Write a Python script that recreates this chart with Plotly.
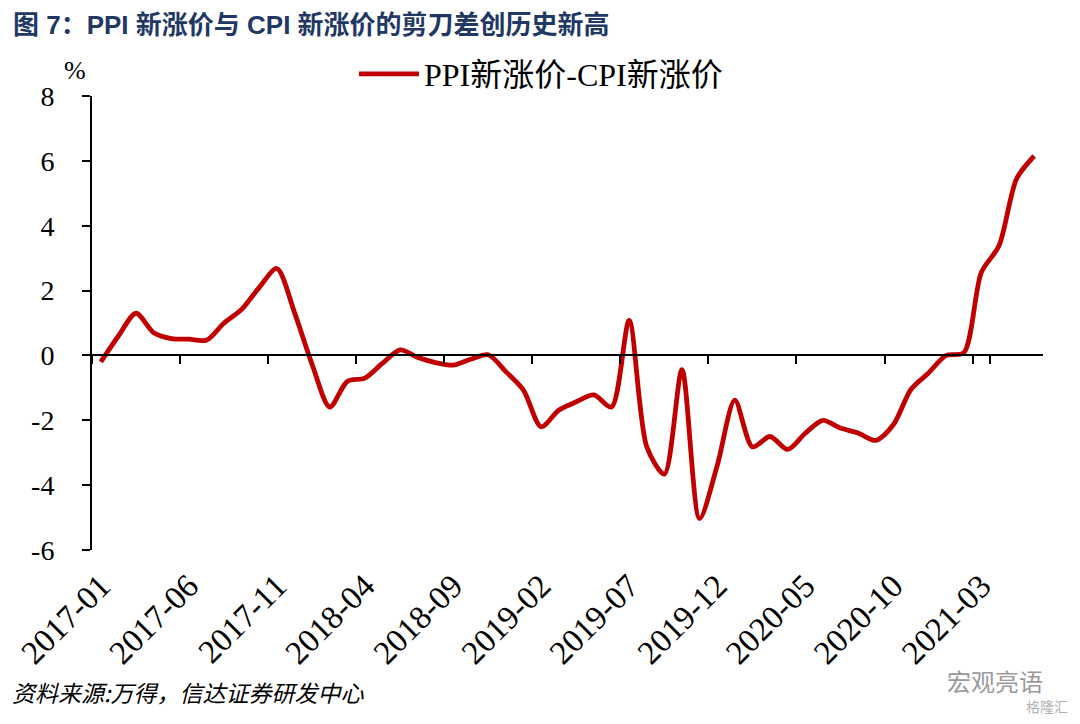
import pandas as pd
import plotly.graph_objects as go

# ---- data ----
months = [d.strftime("%Y-%m") for d in pd.date_range("2017-01-01", "2021-06-01", freq="MS")]
series_name = "PPI新涨价-CPI新涨价"
spread = [-0.2, 0.6, 1.3, 0.7, 0.52, 0.5, 0.47, 1.0, 1.42, 2.1,
          2.68, 1.32, -0.28, -1.59, -0.8, -0.7, -0.24, 0.17, -0.06, -0.22,
          -0.3, -0.12, 0.02, -0.5, -1.07, -2.2, -1.69, -1.43, -1.22, -1.59,
          1.08, -2.82, -3.66, -0.44, -5.03, -3.4, -1.38, -2.82, -2.5, -2.9,
          -2.4, -2.0, -2.24, -2.39, -2.62, -2.14, -1.05, -0.54, 0.0, 0.08,
          2.56, 3.38, 5.45, 6.15]
x_tick_labels = months[::5]
y_ticks = [-6, -4, -2, 0, 2, 4, 6, 8]
y_tick_text = [str(v) for v in y_ticks]

title_text = "图 7：PPI 新涨价与 CPI 新涨价的剪刀差创历史新高"
source_text = "资料来源:万得，信达证券研发中心"

SERIF = "Times New Roman, Liberation Serif, Noto Sans CJK SC, serif"

fig = go.Figure()
fig.add_trace(go.Scatter(
    x=months, y=spread, mode="lines", name=series_name,
    line=dict(color="#C00000", width=4.8, shape="spline", smoothing=0.8),
    cliponaxis=False,
))
# dummy trace so the zero-line axis (x2) is drawn
fig.add_trace(go.Scatter(x=[months[0]], y=[None], xaxis="x2", yaxis="y",
                         showlegend=False, hoverinfo="skip", mode="lines"))

# page has an 8px body margin -> figure is offset by 8px
OFF = 8
W, H = 1080 - OFF, 724 - OFF
L = 92 - OFF
T = 96 - OFF
R = W - (1043 - OFF)
B = H - (550 - OFF)
pw, ph = W - L - R, H - T - B

def px(page_x):
    return (page_x - OFF - L) / pw

def py(page_y):
    return (H - B - (page_y - OFF)) / ph

fig.update_layout(
    width=W, height=H,
    margin=dict(l=L, r=R, t=T, b=B, autoexpand=False),
    plot_bgcolor="white", paper_bgcolor="white",
    showlegend=True,
    legend=dict(orientation="h", x=px(354), xanchor="left", y=py(74), yanchor="middle",
                font=dict(family=SERIF, size=32, color="black"),
                bgcolor="rgba(0,0,0,0)", itemwidth=60),
    xaxis=dict(type="category", range=[-0.5, len(months) - 0.5], automargin=False,
               tickmode="array", tickvals=x_tick_labels, ticktext=x_tick_labels,
               tickangle=-45, ticks="", showline=False, showgrid=False, zeroline=False,
               ticklabelstandoff=9,
               tickfont=dict(family=SERIF, size=33, color="black")),
    xaxis2=dict(type="category", overlaying="x", anchor="free", position=6 / 14,
                categoryorder="array", categoryarray=months, automargin=False,
                range=[-0.5, len(months) - 0.5],
                tickmode="array", tickvals=x_tick_labels, tickson="boundaries",
                ticks="outside", ticklen=8, tickwidth=2, tickcolor="black",
                showticklabels=False, showline=True, linewidth=2, linecolor="black",
                showgrid=False, zeroline=False),
    yaxis=dict(range=[-6, 8], tickmode="array", tickvals=y_ticks, ticktext=y_tick_text,
               automargin=False,
               ticks="outside", ticklen=8, tickwidth=2, tickcolor="black",
               showline=True, linewidth=2, linecolor="black",
               showgrid=False, zeroline=False, ticklabelstandoff=22,
               tickfont=dict(family=SERIF, size=28, color="black")),
)

fig.add_annotation(text="%", xref="paper", yref="paper", x=px(75), y=py(70),
                   xanchor="center", yanchor="middle", showarrow=False,
                   font=dict(family=SERIF, size=26, color="black"))
fig.add_annotation(text="<b>" + title_text + "</b>", xref="paper", yref="paper",
                   x=px(11), y=py(25), xanchor="left", yanchor="middle", showarrow=False,
                   font=dict(family="Liberation Sans, Noto Sans CJK SC, sans-serif",
                             size=26, color="#1F3864"))
fig.add_annotation(text=source_text, xref="paper", yref="paper",
                   x=px(10), y=py(692), xanchor="left", yanchor="middle", showarrow=False,
                   font=dict(family="Noto Sans CJK SC, sans-serif", size=23,
                             color="black", style="italic"))
fig.add_annotation(text="宏观亮语", xref="paper", yref="paper",
                   x=px(1045), y=py(680), xanchor="right", yanchor="middle", showarrow=False,
                   font=dict(family="Noto Sans CJK SC, sans-serif", size=24, color="#9a9a9a"))
fig.add_annotation(text="格隆汇", xref="paper", yref="paper",
                   x=px(1070), y=py(706), xanchor="right", yanchor="middle", showarrow=False,
                   font=dict(family="Noto Sans CJK SC, sans-serif", size=14, color="#b0b0b0"))

fig.write_html("out.html")
